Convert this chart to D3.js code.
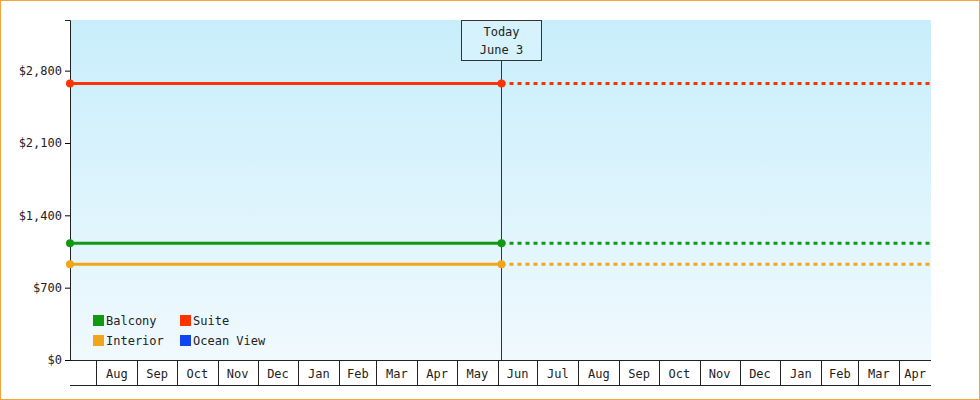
<!DOCTYPE html>
<html><head><meta charset="utf-8">
<script src="https://cdn.jsdelivr.net/npm/d3@7"></script>
<style>body{margin:0;background:#fff}svg{display:block}text{font-family:"DejaVu Sans Mono",monospace;font-size:12px;fill:#222}</style>
</head><body><svg id="c" width="980" height="400"></svg>
<script>
const seriesNames = ["Balcony","Suite","Interior","Ocean View"];
const seriesColors = ["#119911","#ff3300","#f2a51a","#1144ee"];
const seriesValues = [1130, 2675, 927, null];
const yTicks = [0,700,1400,2100,2800];
const startDate = new Date(2024,6,12), todayDate = new Date(2025,5,3), endDate = new Date(2026,3,25);
const monthLabels = ["Aug","Sep","Oct","Nov","Dec","Jan","Feb","Mar","Apr","May","Jun","Jul","Aug","Sep","Oct","Nov","Dec","Jan","Feb","Mar","Apr"];
const W=980,H=400,L=70,R=931,T=20,B=360;
const svg=d3.select("#c");
svg.append("rect").attr("x",0.5).attr("y",0.5).attr("width",W-1).attr("height",H-1).attr("fill","#fff").attr("stroke","#f4a43a");
const g=svg.append("defs").append("linearGradient").attr("id","bg").attr("x1",0).attr("x2",0).attr("y1",0).attr("y2",1);
g.append("stop").attr("offset","0").attr("stop-color","#c8eefb");
g.append("stop").attr("offset","1").attr("stop-color","#f0f9fe");
svg.append("rect").attr("x",L).attr("y",T).attr("width",R-L).attr("height",B-T).attr("fill","url(#bg)");
const x=d3.scaleTime().domain([startDate,endDate]).range([L,R]);
const y=d3.scaleLinear().domain([0,3290]).range([B,T]);
svg.append("g").attr("transform",`translate(${L},0)`).call(d3.axisLeft(y).tickValues(yTicks).tickFormat(d=>"$"+d3.format(",")(d)).tickSize(5))
 .call(a=>{a.select(".domain").attr("stroke","#222");a.selectAll("text").style("font-family","DejaVu Sans Mono").style("font-size","12px").attr("fill","#222");});
// month cells
const months=d3.timeMonth.range(d3.timeMonth.ceil(startDate),endDate);
const bounds=[startDate,...months,endDate];
svg.append("line").attr("x1",L).attr("x2",R).attr("y1",B+0.5).attr("y2",B+0.5).attr("stroke","#222");
svg.append("line").attr("x1",L).attr("x2",R).attr("y1",385.5).attr("y2",385.5).attr("stroke","#222");
months.forEach((m,i)=>{
 const x0=x(m), x1=x(bounds[i+2]);
 svg.append("line").attr("x1",Math.round(x0)+0.5).attr("x2",Math.round(x0)+0.5).attr("y1",B).attr("y2",385).attr("stroke","#222");
 svg.append("text").attr("x",(x0+x1)/2).attr("y",378).attr("text-anchor","middle").text(monthLabels[i]);
});
// today
const tx=Math.round(x(todayDate))+0.5;
svg.append("line").attr("x1",tx).attr("x2",tx).attr("y1",60).attr("y2",B).attr("stroke","#333");
svg.append("rect").attr("x",tx-40).attr("y",20.5).attr("width",80).attr("height",40).attr("fill","#d6f2fc").attr("stroke","#333");
svg.append("text").attr("x",tx).attr("y",36).attr("text-anchor","middle").text("Today");
svg.append("text").attr("x",tx).attr("y",54).attr("text-anchor","middle").text("June 3");
seriesValues.forEach((v,i)=>{
 if(v==null) return;
 const c=seriesColors[i], yy=y(v);
 svg.append("line").attr("x1",L).attr("x2",tx).attr("y1",yy).attr("y2",yy).attr("stroke",c).attr("stroke-width",3);
 svg.append("line").attr("x1",tx).attr("x2",R).attr("y1",yy).attr("y2",yy).attr("stroke",c).attr("stroke-width",3).attr("stroke-dasharray","4,4");
 [L,tx].forEach(px=>svg.append("circle").attr("cx",px).attr("cy",yy).attr("r",4).attr("fill",c));
});
// legend
const lp=[[93,320],[180,320],[93,340],[180,340]];
const order=[0,1,2,3];
order.forEach((i,k)=>{
 const [lx,ly]=lp[k];
 svg.append("rect").attr("x",lx).attr("y",ly-5).attr("width",11).attr("height",11).attr("fill",seriesColors[i]);
 svg.append("text").attr("x",lx+13).attr("y",ly+5).text(seriesNames[i]);
});
</script></body></html>
